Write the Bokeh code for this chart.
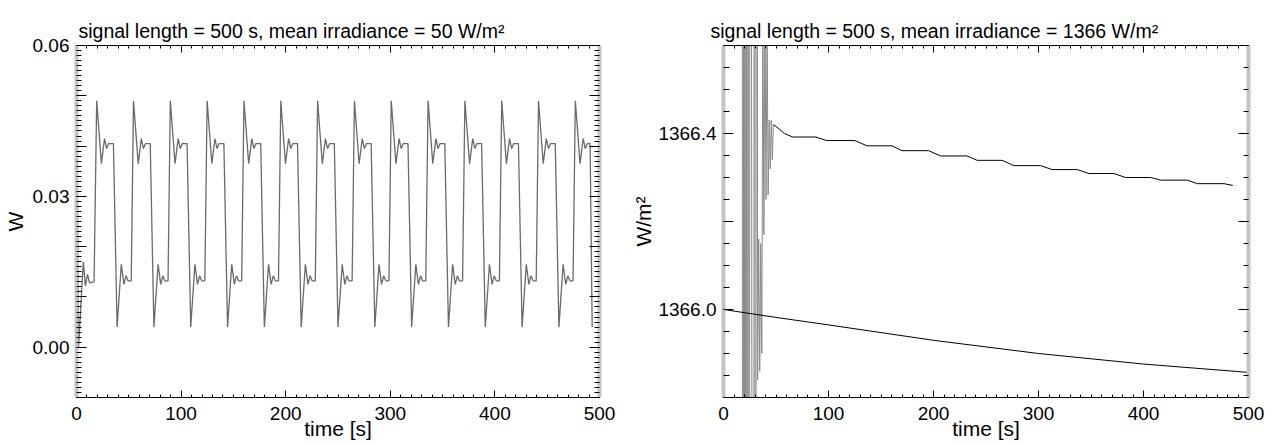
from bokeh.plotting import figure
from bokeh.models import LinearAxis, FixedTicker, CustomJSTickFormatter, Range1d
from bokeh.layouts import row
from bokeh.embed import file_html
from bokeh.resources import INLINE

# ---------------- data: left panel (mean irradiance 50 W/m^2) ----------------
wave_t = [
    0.0, 2.0, 6.5, 8.5, 10.5, 12.5, 16.8,
    19.3, 23.8, 26.8, 28.8, 30.8, 35.3, 38.8, 42.8, 45.3, 47.3, 49.3, 52.3,
    54.5, 59.0, 62.0, 64.0, 66.0, 70.5, 74.0, 78.0, 80.5, 82.5, 84.5, 87.5,
    89.7, 94.2, 97.2, 99.2, 101.2, 105.7, 109.2, 113.2, 115.7, 117.7, 119.7, 122.7,
    124.9, 129.4, 132.4, 134.4, 136.4, 140.9, 144.4, 148.4, 150.9, 152.9, 154.9, 157.9,
    160.1, 164.6, 167.6, 169.6, 171.6, 176.1, 179.6, 183.6, 186.1, 188.1, 190.1, 193.1,
    195.3, 199.8, 202.8, 204.8, 206.8, 211.3, 214.8, 218.8, 221.3, 223.3, 225.3, 228.3,
    230.5, 235.0, 238.0, 240.0, 242.0, 246.5, 250.0, 254.0, 256.5, 258.5, 260.5, 263.5,
    265.7, 270.2, 273.2, 275.2, 277.2, 281.7, 285.2, 289.2, 291.7, 293.7, 295.7, 298.7,
    300.9, 305.4, 308.4, 310.4, 312.4, 316.9, 320.4, 324.4, 326.9, 328.9, 330.9, 333.9,
    336.1, 340.6, 343.6, 345.6, 347.6, 352.1, 355.6, 359.6, 362.1, 364.1, 366.1, 369.1,
    371.3, 375.8, 378.8, 380.8, 382.8, 387.3, 390.8, 394.8, 397.3, 399.3, 401.3, 404.3,
    406.5, 411.0, 414.0, 416.0, 418.0, 422.5, 426.0, 430.0, 432.5, 434.5, 436.5, 439.5,
    441.7, 446.2, 449.2, 451.2, 453.2, 457.7, 461.2, 465.2, 467.7, 469.7, 471.7, 474.7,
    476.9, 481.4, 484.4, 486.4, 488.4, 491.0, 493.0,
]
wave_v = [
    0.054, 0.000, 0.017, 0.0122, 0.0145, 0.0128, 0.013,
    0.049, 0.0365, 0.0415, 0.0395, 0.0405, 0.0405, 0.004, 0.0165, 0.0125, 0.0142, 0.0132, 0.0132,
    0.049, 0.0365, 0.0415, 0.0395, 0.0405, 0.0405, 0.004, 0.0165, 0.0125, 0.0142, 0.0132, 0.0132,
    0.049, 0.0365, 0.0415, 0.0395, 0.0405, 0.0405, 0.004, 0.0165, 0.0125, 0.0142, 0.0132, 0.0132,
    0.049, 0.0365, 0.0415, 0.0395, 0.0405, 0.0405, 0.004, 0.0165, 0.0125, 0.0142, 0.0132, 0.0132,
    0.049, 0.0365, 0.0415, 0.0395, 0.0405, 0.0405, 0.004, 0.0165, 0.0125, 0.0142, 0.0132, 0.0132,
    0.049, 0.0365, 0.0415, 0.0395, 0.0405, 0.0405, 0.004, 0.0165, 0.0125, 0.0142, 0.0132, 0.0132,
    0.049, 0.0365, 0.0415, 0.0395, 0.0405, 0.0405, 0.004, 0.0165, 0.0125, 0.0142, 0.0132, 0.0132,
    0.049, 0.0365, 0.0415, 0.0395, 0.0405, 0.0405, 0.004, 0.0165, 0.0125, 0.0142, 0.0132, 0.0132,
    0.049, 0.0365, 0.0415, 0.0395, 0.0405, 0.0405, 0.004, 0.0165, 0.0125, 0.0142, 0.0132, 0.0132,
    0.049, 0.0365, 0.0415, 0.0395, 0.0405, 0.0405, 0.004, 0.0165, 0.0125, 0.0142, 0.0132, 0.0132,
    0.049, 0.0365, 0.0415, 0.0395, 0.0405, 0.0405, 0.004, 0.0165, 0.0125, 0.0142, 0.0132, 0.0132,
    0.049, 0.0365, 0.0415, 0.0395, 0.0405, 0.0405, 0.004, 0.0165, 0.0125, 0.0142, 0.0132, 0.0132,
    0.049, 0.0365, 0.0415, 0.0395, 0.0405, 0.0405, 0.004, 0.0165, 0.0125, 0.0142, 0.0132, 0.0132,
    0.049, 0.0365, 0.0415, 0.0395, 0.0405, 0.0405, 0.004,
]

# ---------------- data: right panel (mean irradiance 1366 W/m^2) ----------------
ref_t = [0, 50, 100, 200, 300, 400, 500]
ref_v = [1366.000, 1365.982, 1365.965, 1365.930, 1365.900, 1365.876, 1365.857]

transient_t = [17.5, 18.5, 19.5, 20.5, 21.5, 22.5, 23.5, 24.5, 25.4, 28.5, 29.5, 30.5,
               31.5, 32.5, 33.5, 34.5, 35.5, 36.5, 37.5, 38.5, 39.5, 40.5, 41.5, 42.5,
               43.5, 44.5, 45.5, 46.5, 47.5]
transient_v = [1370, 1362, 1370, 1362, 1370, 1362, 1370, 1362, 1370, 1362, 1370, 1362,
               1370, 1365.84, 1366.16, 1365.86, 1366.15, 1365.90, 1366.70, 1366.17, 1366.70,
               1366.25, 1366.65, 1366.26, 1366.43, 1366.32, 1366.43, 1366.34, 1366.42]

drift_t = [47.5, 49, 58, 66, 88, 98, 125, 136.7, 160.5, 170, 195.4, 206.6, 232, 241.6,
           265.4, 276.5, 302, 313, 337, 348, 371.8, 383, 406.8, 416.3, 441.8, 451.3,
           476.7, 485]
drift_v = [1366.42, 1366.418, 1366.400, 1366.392, 1366.392, 1366.384, 1366.384, 1366.372,
           1366.372, 1366.361, 1366.361, 1366.349, 1366.349, 1366.339, 1366.339, 1366.327,
           1366.327, 1366.318, 1366.318, 1366.309, 1366.309, 1366.300, 1366.300, 1366.294,
           1366.294, 1366.286, 1366.286, 1366.282]

x_major = [0, 100, 200, 300, 400, 500]
left_y_major = [-0.01, 0.0, 0.01, 0.02, 0.03, 0.04, 0.05, 0.06]
right_y_major = [1365.8, 1366.0, 1366.2, 1366.4, 1366.6]

titles = ["signal length = 500 s, mean irradiance = 50 W/m\u00b2",
          "signal length = 500 s, mean irradiance = 1366 W/m\u00b2"]
ylabels = ["W", "W/m\u00b2"]
xlabel = "time [s]"

FONT = "Liberation Sans"
TICK_FS = "19px"
GRAY_AX = "#c4c4c4"


def style_figure(p, title, title_offset, yfmt, yticker, y_minor_in):
    p.xgrid.visible = False
    p.ygrid.visible = False
    p.outline_line_color = None
    p.background_fill_color = "white"
    p.border_fill_color = "white"
    p.title.text = title
    p.title.align = "left"
    p.title.offset = title_offset
    p.title.text_font = FONT
    p.title.text_font_size = "19.5px"
    p.title.text_font_style = "normal"
    p.title.text_color = "black"
    p.title.standoff = 8

    xt = FixedTicker(ticks=x_major, minor_ticks=list(range(0, 501, 10)))
    for ax in p.xaxis:
        ax.ticker = xt
        ax.major_tick_in = 7
        ax.major_tick_out = 0
        ax.minor_tick_in = 3
        ax.minor_tick_out = 0
        ax.axis_line_color = "black"
        ax.major_label_text_font = FONT
        ax.major_label_text_font_size = TICK_FS
        ax.major_label_text_color = "black"
        ax.major_label_standoff = 9
        ax.axis_label = xlabel
        ax.axis_label_text_font = FONT
        ax.axis_label_text_font_size = "21px"
        ax.axis_label_text_font_style = "normal"
        ax.axis_label_text_color = "black"
        ax.axis_label_standoff = -6
    top = LinearAxis(ticker=xt, major_tick_in=7, major_tick_out=0, minor_tick_in=3,
                     minor_tick_out=0, major_label_text_font_size="0px",
                     major_label_text_color=None,
                     major_label_standoff=0, axis_line_color="black")
    p.add_layout(top, "above")

    for ax in p.yaxis:
        ax.ticker = yticker
        ax.formatter = yfmt
        ax.major_tick_in = 10
        ax.major_tick_out = 0
        ax.minor_tick_in = y_minor_in
        ax.minor_tick_out = 0
        ax.axis_line_color = GRAY_AX
        ax.axis_line_width = 4
        ax.major_label_text_font = FONT
        ax.major_label_text_font_size = TICK_FS
        ax.major_label_text_color = "black"
        ax.major_label_standoff = 7
        ax.axis_label_text_font = FONT
        ax.axis_label_text_font_size = "21px"
        ax.axis_label_text_font_style = "normal"
        ax.axis_label_text_color = "black"
        ax.axis_label_standoff = 0
    right = LinearAxis(ticker=yticker, major_tick_in=10, major_tick_out=0,
                       minor_tick_in=5, minor_tick_out=0,
                       major_label_text_font_size="0px", major_label_text_color=None,
                       major_label_standoff=0,
                       axis_line_color=GRAY_AX, axis_line_width=4)
    p.add_layout(right, "right")


# ---------------- left figure ----------------
p1 = figure(width=629, height=445, x_range=Range1d(0, 500), y_range=Range1d(-0.01, 0.06),
            output_backend="svg", toolbar_location=None,
            min_border_left=76, min_border_right=30, min_border_top=45, min_border_bottom=48,
            y_axis_label=ylabels[0])
p1.line(wave_t, wave_v, line_color="#6a6a6a", line_width=1.3)
fmt1 = CustomJSTickFormatter(code="""
    const r = Math.round(tick * 100);
    return (r >= 0 && r % 3 === 0) ? tick.toFixed(2) : "";
""")
yt1 = FixedTicker(ticks=left_y_major, minor_ticks=[i / 1000 for i in range(-10, 61)])
style_figure(p1, titles[0], 2, fmt1, yt1, 5)
p1.yaxis[0].axis_label_standoff = 3

# ---------------- right figure ----------------
p2 = figure(width=644, height=445, x_range=Range1d(0, 500), y_range=Range1d(1365.8, 1366.6),
            output_backend="svg", toolbar_location=None,
            min_border_left=94, min_border_right=25, min_border_top=45, min_border_bottom=48,
            y_axis_label=ylabels[1])
p2.line(transient_t, transient_v, line_color="#8a8a8a", line_width=1)
p2.line(drift_t, drift_v, line_color="black", line_width=1)
p2.line(ref_t, ref_v, line_color="black", line_width=1)
fmt2 = CustomJSTickFormatter(code="""
    return (Math.abs(tick - 1366.0) < 1e-6 || Math.abs(tick - 1366.4) < 1e-6) ? tick.toFixed(1) : "";
""")
yt2 = FixedTicker(ticks=right_y_major,
                  minor_ticks=[round(1365.8 + 0.05 * i, 2) for i in range(17)])
style_figure(p2, titles[1], -13, fmt2, yt2, 6)

layout = row(p1, p2)
open("out.html", "w").write(file_html(layout, INLINE))
